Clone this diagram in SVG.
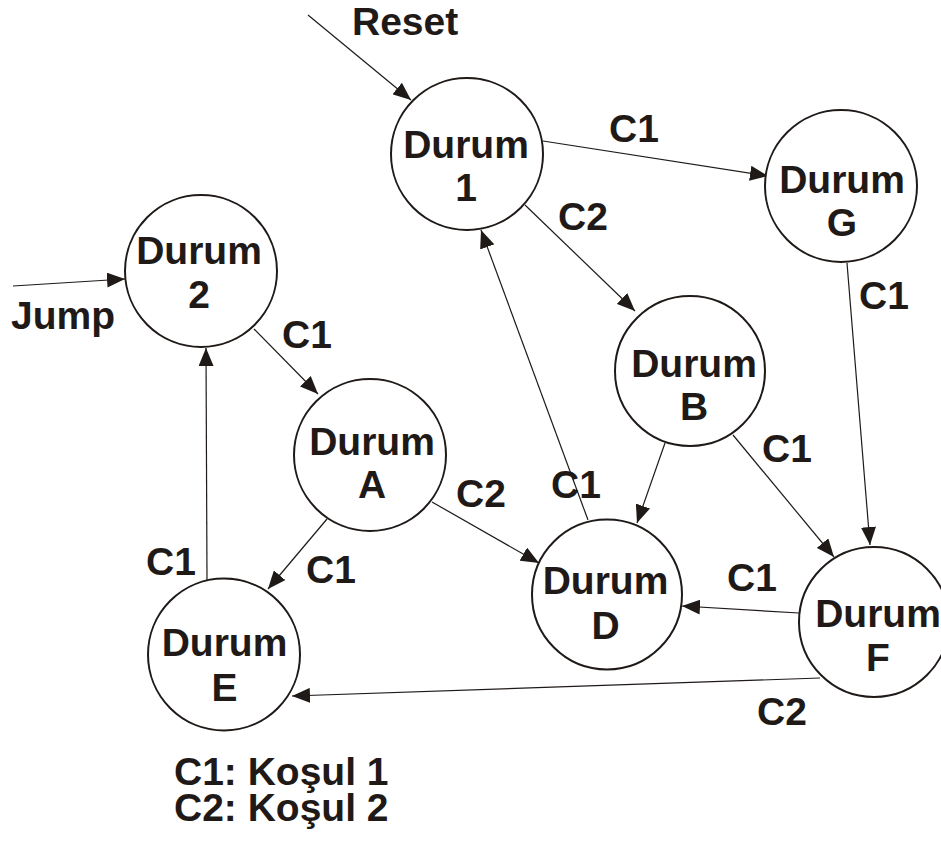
<svg xmlns="http://www.w3.org/2000/svg" width="941" height="841" viewBox="0 0 941 841">
<style>
  .node circle { fill: #ffffff; stroke: #1f1a17; stroke-width: 2; }
  text { font-family: "Liberation Sans", Arial, sans-serif; font-weight: bold; font-size: 39px; fill: #1f1a17; }
  .nt { text-anchor: middle; }
  .edge line { stroke: #1f1a17; stroke-width: 1.2; marker-end: url(#arr); }
</style>
<defs>
  <marker id="arr" markerUnits="userSpaceOnUse" markerWidth="18" markerHeight="15" viewBox="0 0 18 15" refX="18" refY="7.5" orient="auto">
    <path d="M0,0 L18,7.5 L0,15 z" fill="#1f1a17"/>
  </marker>
</defs>
<rect width="941" height="841" fill="#ffffff"/>

<g id="connectors" class="edge">
  <line x1="308" y1="15" x2="411" y2="100"/>
  <line x1="543" y1="141" x2="768" y2="176"/>
  <line x1="525" y1="205" x2="635" y2="311"/>
  <line x1="13" y1="286" x2="125" y2="279"/>
  <line x1="254" y1="329" x2="318" y2="394"/>
  <line x1="847" y1="263" x2="870" y2="545"/>
  <line x1="665" y1="443" x2="637" y2="523"/>
  <line x1="733" y1="435" x2="834" y2="557"/>
  <line x1="432" y1="502" x2="539" y2="563"/>
  <line x1="327" y1="519" x2="268" y2="589"/>
  <line x1="588" y1="520" x2="481" y2="230"/>
  <line x1="207" y1="580" x2="206" y2="348"/>
  <line x1="799" y1="613" x2="682" y2="606"/>
  <line x1="820" y1="678" x2="292" y2="696"/>
</g>

<g id="node-1" class="node">
  <circle cx="467" cy="154" r="76"/>
  <text class="nt" x="466" y="158">Durum</text>
  <text class="nt" x="466" y="201">1</text>
</g>
<g id="node-G" class="node">
  <circle cx="841" cy="186" r="76"/>
  <text class="nt" x="842" y="193">Durum</text>
  <text class="nt" x="842" y="236">G</text>
</g>
<g id="node-2" class="node">
  <circle cx="201" cy="271" r="76"/>
  <text class="nt" x="199" y="264">Durum</text>
  <text class="nt" x="199" y="308">2</text>
</g>
<g id="node-A" class="node">
  <circle cx="370" cy="455" r="76"/>
  <text class="nt" x="372" y="455">Durum</text>
  <text class="nt" x="372" y="498">A</text>
</g>
<g id="node-B" class="node">
  <circle cx="690" cy="371" r="75"/>
  <text class="nt" x="694" y="377">Durum</text>
  <text class="nt" x="694" y="420">B</text>
</g>
<g id="node-D" class="node">
  <circle cx="607" cy="594.5" r="75"/>
  <text class="nt" x="605.5" y="594">Durum</text>
  <text class="nt" x="605.5" y="639">D</text>
</g>
<g id="node-F" class="node">
  <circle cx="874" cy="622" r="75"/>
  <text class="nt" x="878" y="627">Durum</text>
  <text class="nt" x="878" y="671">F</text>
</g>
<g id="node-E" class="node">
  <circle cx="224" cy="654.5" r="76"/>
  <text class="nt" x="224.5" y="656">Durum</text>
  <text class="nt" x="224.5" y="701">E</text>
</g>

<g id="labels">
  <text x="352" y="35">Reset</text>
  <text x="11" y="329">Jump</text>
  <text x="609" y="142">C1</text>
  <text x="558" y="230">C2</text>
  <text x="282" y="348">C1</text>
  <text x="859" y="309">C1</text>
  <text x="456" y="507">C2</text>
  <text x="551" y="498">C1</text>
  <text x="306" y="583">C1</text>
  <text x="146" y="575">C1</text>
  <text x="762" y="462">C1</text>
  <text x="727" y="591">C1</text>
  <text x="757" y="725">C2</text>
  <text x="174" y="785">C1: Koşul 1<tspan x="174" y="821">C2: Koşul 2</tspan></text>
</g>
</svg>
